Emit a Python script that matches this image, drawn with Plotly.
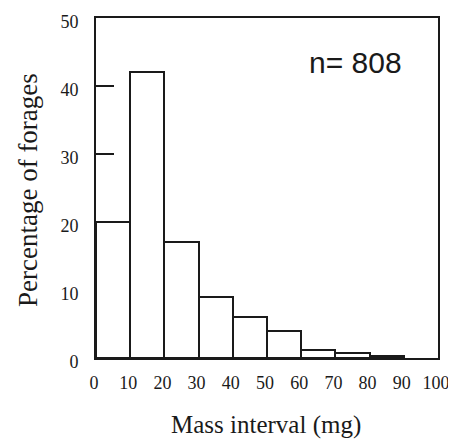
"""
Histogram of forage mass intervals.
"""

import plotly.graph_objects as go

# bin left edges (mg) and percentage of forages in each bin
bin_starts = [0, 10, 20, 30, 40, 50, 60, 70, 80]
percentages = [20, 42, 17, 9, 6, 3.9, 1.2, 0.7, 0.3]
bin_width = 10

x_ticks = [0, 10, 20, 30, 40, 50, 60, 70, 80, 90, 100]
y_ticks = [0, 10, 20, 30, 40, 50]
inner_ticks = [30, 40]
sample_label = "n= 808"
x_title = "Mass interval (mg)"
y_title = "Percentage of forages"

SERIF = "Liberation Serif, Times New Roman, serif"
INK = "#1a1a1a"

# the page body adds an 8px margin, so the figure is shrunk to fit the window
PAGE_PAD = 8

fig = go.Figure()

fig.add_trace(
    go.Bar(
        x=[s + bin_width / 2 for s in bin_starts],
        y=percentages,
        width=bin_width,
        marker=dict(color="white", line=dict(color=INK, width=2)),
        hoverinfo="x+y",
        showlegend=False,
    )
)

# invisible trace just to carry the inner tick marks axis
fig.add_trace(
    go.Scatter(x=[None], y=[None], yaxis="y2", showlegend=False, hoverinfo="skip")
)

fig.add_annotation(
    text=sample_label,
    x=76, y=43.4,
    xref="x", yref="y",
    showarrow=False,
    font=dict(family="Liberation Sans, Arial, sans-serif", size=30, color=INK),
)

# axis titles as annotations for exact placement
fig.add_annotation(
    text=x_title,
    x=0.497, y=0, xref="paper", yref="paper",
    yshift=-67, yanchor="middle",
    showarrow=False,
    font=dict(family=SERIF, size=25, color=INK),
)
fig.add_annotation(
    text=y_title,
    x=0, y=0.494, xref="paper", yref="paper",
    xshift=-68, xanchor="center",
    textangle=-90,
    showarrow=False,
    font=dict(family=SERIF, size=27, color=INK),
)

fig.update_layout(
    width=456 - PAGE_PAD,
    height=441 - PAGE_PAD,
    paper_bgcolor="white",
    plot_bgcolor="white",
    margin=dict(l=96 - PAGE_PAD, r=18, t=18 - PAGE_PAD, b=83),
    bargap=0,
    font=dict(family=SERIF, color=INK),
    xaxis=dict(
        range=[0, 100],
        tickvals=x_ticks,
        ticks="",
        showgrid=False,
        zeroline=False,
        showline=True,
        linecolor=INK,
        linewidth=2,
        mirror=True,
        automargin=False,
        tickfont=dict(family=SERIF, size=18, color=INK),
        ticklabelstandoff=7,
        ticklabelshift=-2,
    ),
    yaxis=dict(
        range=[0, 50],
        tickvals=y_ticks,
        ticks="",
        showgrid=False,
        zeroline=False,
        showline=True,
        linecolor=INK,
        linewidth=2,
        mirror=True,
        automargin=False,
        tickfont=dict(family=SERIF, size=18, color=INK),
        ticklabelstandoff=12,
        ticklabelshift=4,
    ),
    yaxis2=dict(
        range=[0, 50],
        overlaying="y",
        side="left",
        tickvals=inner_ticks,
        ticks="inside",
        ticklen=18,
        tickwidth=2,
        tickcolor=INK,
        showticklabels=False,
        showgrid=False,
        zeroline=False,
        showline=False,
    ),
)

fig.write_html("out.html")
